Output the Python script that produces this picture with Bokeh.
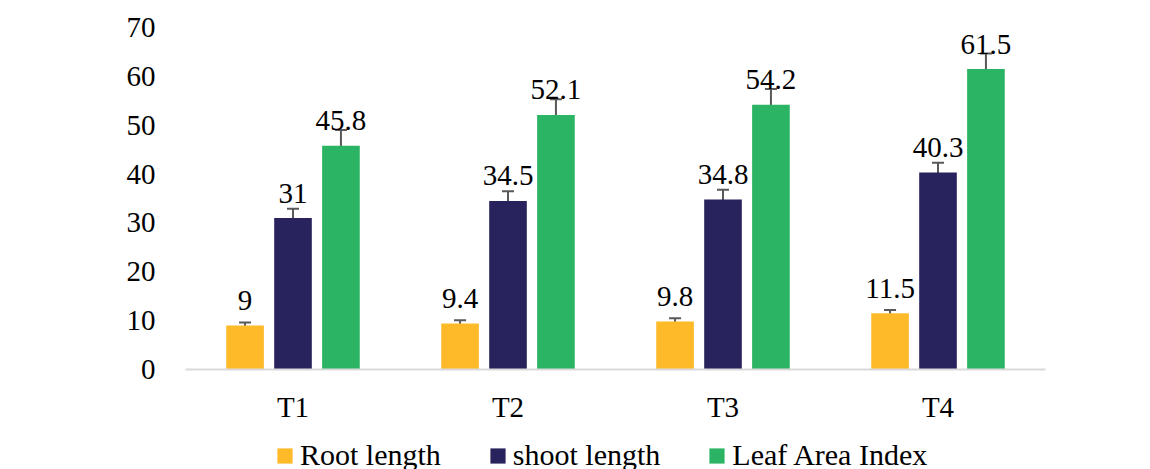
from bokeh.plotting import figure
from bokeh.layouts import column
from bokeh.models import (ColumnDataSource, FactorRange, Whisker, TeeHead, Legend,
                          LegendItem, SingleIntervalTicker, Range1d)
from bokeh.transform import dodge
from bokeh.core.properties import value
from bokeh.embed import file_html
from bokeh.resources import INLINE

categories = ["T1", "T2", "T3", "T4"]
root_length = [9, 9.4, 9.8, 11.5]
shoot_length = [31, 34.5, 34.8, 40.3]
leaf_area_index = [45.8, 52.1, 54.2, 61.5]
root_err = [0.6, 0.7, 0.7, 0.7]
shoot_err = [1.9, 2.0, 2.0, 2.0]
leaf_err = [3.2, 3.2, 3.2, 3.2]
series_names = ["Root length", "shoot length", "Leaf Area Index"]
colors = ["#FEBA28", "#28235D", "#2AB463"]

FONT = "Liberation Serif"
FS = "29px"
LFS = "30px"

p = figure(x_range=FactorRange(factors=categories), y_range=(0, 70),
           width=1150, height=425, output_backend="svg", toolbar_location=None,
           min_border_left=185, min_border_right=105, min_border_top=27,
           min_border_bottom=53)
p.outline_line_color = None
p.xgrid.grid_line_color = None
p.ygrid.grid_line_color = None

offsets = [-0.223, 0.0, 0.223]
bar_w = 0.175
series = [root_length, shoot_length, leaf_area_index]
errs = [root_err, shoot_err, leaf_err]

# legend strip under the chart (its swatch renderers sit outside its range)
lf = figure(width=1150, height=44, output_backend="svg", toolbar_location=None,
            x_range=Range1d(0, 1), y_range=Range1d(0, 1),
            min_border=0, min_border_left=0, min_border_right=0,
            min_border_top=0, min_border_bottom=0)
lf.outline_line_color = None
lf.axis.visible = False
lf.grid.visible = False

items = []
for name, vals, err, col, off in zip(series_names, series, errs, colors, offsets):
    src = ColumnDataSource(dict(
        x=categories, top=vals,
        upper=[v + e for v, e in zip(vals, err)],
        lower=[v - e for v, e in zip(vals, err)],
        label=["{:g}".format(v) for v in vals],
    ))
    xd = dodge("x", off, range=p.x_range)
    p.vbar(x=xd, top="top", width=bar_w, source=src,
           fill_color=col, line_color=None)
    w = Whisker(base=xd, upper="upper", lower="lower", source=src,
                dimension="height", line_color="#595959", line_width=2,
                upper_head=TeeHead(size=12, line_color="#595959", line_width=2),
                lower_head=TeeHead(size=12, line_color="#595959", line_width=2))
    p.add_layout(w)
    p.text(x=xd, y="top", text="label", source=src, y_offset=-25,
           text_align="center", text_baseline="alphabetic",
           text_font=value(FONT), text_font_size=value(FS), text_color="black")
    lr = lf.vbar(x=[-5], top=[-4], bottom=[-5], width=0.5,
                 fill_color=col, line_color=None)
    items.append(LegendItem(label=name, renderers=[lr]))

# axes
p.yaxis.ticker = SingleIntervalTicker(interval=10)
p.yaxis.axis_line_color = None
p.yaxis.major_tick_line_color = None
p.yaxis.minor_tick_line_color = None
p.yaxis.major_label_standoff = 24
p.yaxis.major_label_text_font = FONT
p.yaxis.major_label_text_font_size = FS
p.yaxis.major_label_text_color = "black"

p.xaxis.axis_line_color = "#d9d9d9"
p.xaxis.axis_line_width = 2
p.xaxis.major_tick_line_color = None
p.xaxis.minor_tick_line_color = None
p.xaxis.major_label_standoff = 15
p.xaxis.major_label_text_font = FONT
p.xaxis.major_label_text_font_size = FS
p.xaxis.major_label_text_color = "black"

legend = Legend(items=items, orientation="horizontal", location=(90, -3),
                label_text_font=FONT, label_text_font_size=LFS,
                label_text_color="black", glyph_width=19, glyph_height=19,
                label_height=15, label_standoff=6, spacing=47,
                padding=0, margin=0, border_line_color=None,
                background_fill_alpha=0)
lf.add_layout(legend, "center")

layout = column(p, lf, spacing=0)
open("out.html", "w").write(file_html(layout, INLINE))
